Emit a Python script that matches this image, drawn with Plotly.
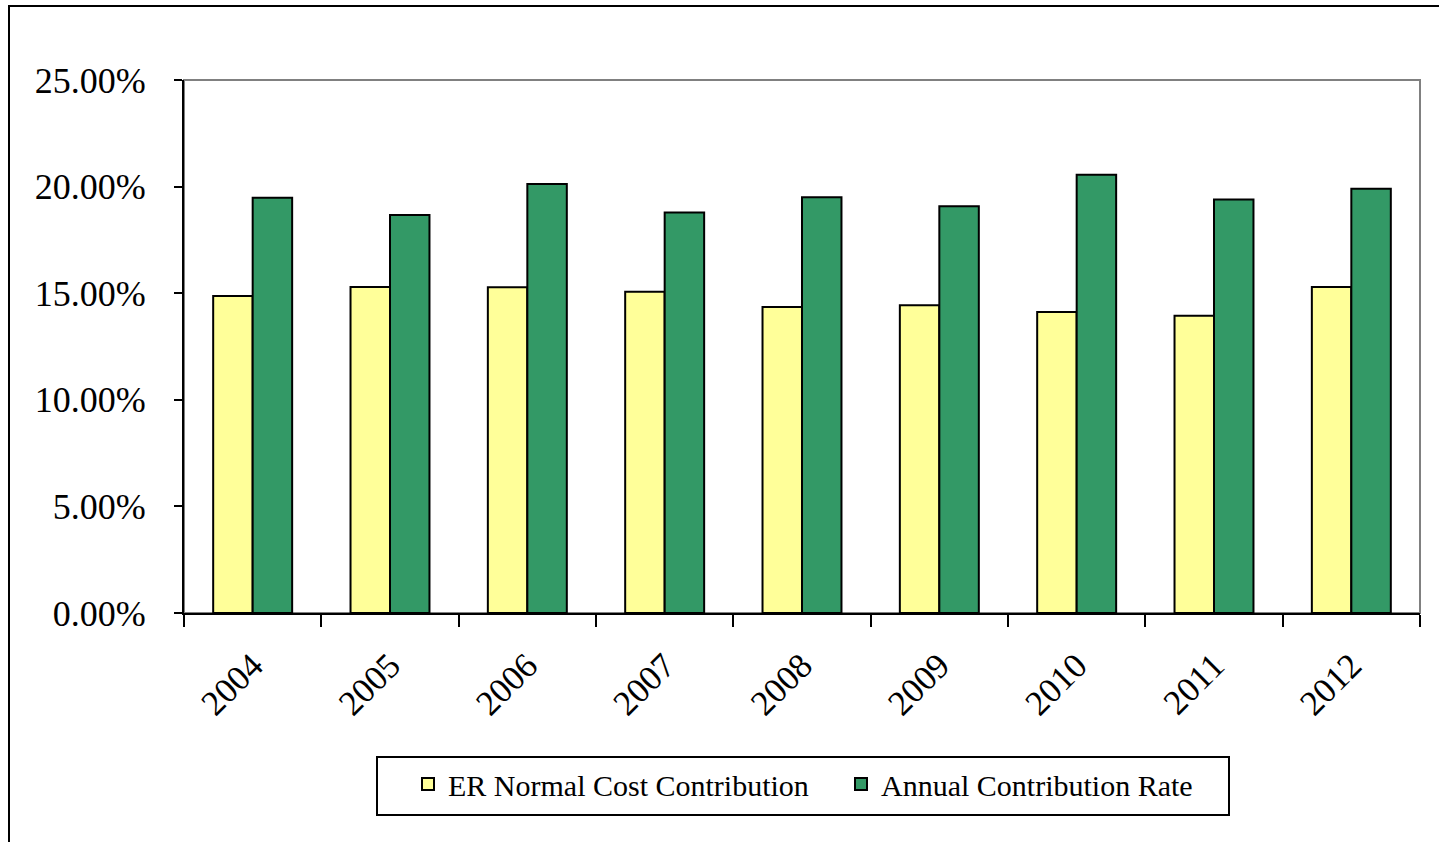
import plotly.graph_objects as go

# Contribution rates by plan year (percent of payroll)
years = ["2004", "2005", "2006", "2007", "2008", "2009", "2010", "2011", "2012"]
er_normal_cost = [14.87, 15.29, 15.28, 15.07, 14.35, 14.43, 14.12, 13.94, 15.29]
annual_rate = [19.48, 18.67, 20.12, 18.78, 19.50, 19.08, 20.56, 19.39, 19.90]

W, H = 1439, 842
L, R, T, B = 184, 1420, 80, 613  # plot area in pixels


def px_to_paper(x, y):
    return (x - L) / (R - L), (B - y) / (B - T)


FONT = "Liberation Serif"

fig = go.Figure()
fig.add_trace(go.Bar(
    x=years, y=er_normal_cost, name="ER Normal Cost Contribution",
    marker=dict(color="#FFFF99", line=dict(color="black", width=2)),
))
fig.add_trace(go.Bar(
    x=years, y=annual_rate, name="Annual Contribution Rate",
    marker=dict(color="#339966", line=dict(color="black", width=2)),
))

# grey frame around the plot area (top/right visible; left/bottom covered by axes)
fig.add_shape(type="rect", xref="paper", yref="paper", x0=0, y0=0, x1=1, y1=1,
              line=dict(color="#808080", width=2), layer="below")

# outer chart border
ox0, oy0 = px_to_paper(9, 6)
ox1, oy1 = px_to_paper(1450, 860)
fig.add_shape(type="rect", xref="paper", yref="paper", x0=ox0, y0=oy1, x1=ox1, y1=oy0,
              line=dict(color="black", width=2), layer="below")

# legend frame
bx0, by0 = px_to_paper(377, 757)
bx1, by1 = px_to_paper(1229, 815)
fig.add_shape(type="rect", xref="paper", yref="paper", x0=bx0, y0=by1, x1=bx1, y1=by0,
              line=dict(color="black", width=2), fillcolor="white", layer="below")

lx, ly = px_to_paper(408, 758)

fig.update_layout(
    width=W, height=H,
    margin=dict(l=L, r=W - R, t=T, b=H - B, autoexpand=False),
    paper_bgcolor="white", plot_bgcolor="white",
    barmode="group", bargap=0.425, bargroupgap=0,
    font=dict(family=FONT, color="black"),
    showlegend=True,
    legend=dict(
        orientation="h", x=lx, y=ly, xanchor="left", yanchor="top",
        bgcolor="rgba(0,0,0,0)", borderwidth=0,
        font=dict(family=FONT, size=30, color="black"),
        itemwidth=30, tracegroupgap=0, entrywidth=388,
    ),
    xaxis=dict(
        type="category", showline=True, linecolor="black", linewidth=2,
        ticks="outside", ticklen=12, tickwidth=2, tickcolor="black",
        tickson="boundaries", tickangle=-45, ticklabelstandoff=16,
        tickfont=dict(family=FONT, size=35, color="black"),
        showgrid=False, zeroline=False,
    ),
    yaxis=dict(
        range=[0, 25], dtick=5, tick0=0, tickformat=".2f", ticksuffix="%",
        showline=True, linecolor="black", linewidth=2,
        ticks="outside", ticklen=8, tickwidth=2, tickcolor="black",
        ticklabelstandoff=21,
        tickfont=dict(family=FONT, size=36, color="black"),
        showgrid=False, zeroline=False,
    ),
)

fig.write_html("out.html")
